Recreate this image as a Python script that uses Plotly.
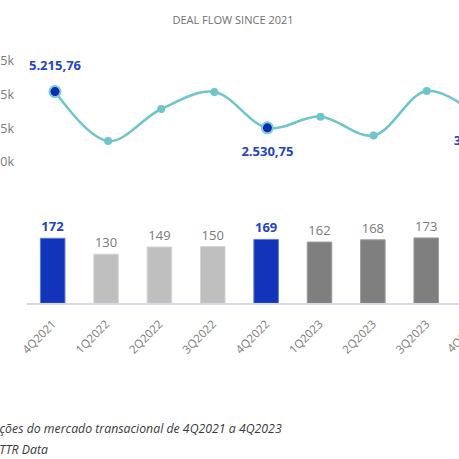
import plotly.graph_objects as go

# ---------------- data ----------------
quarters = ["4Q2021", "1Q2022", "2Q2022", "3Q2022", "4Q2022",
            "1Q2023", "2Q2023", "3Q2023", "4Q2023"]
deal_count = [172, 130, 149, 150, 169, 162, 168, 173, None]
deal_value = [5215.76, 1547.0, 3925.0, 5190.0, 2530.75, 3360.0, 1966.0, 5260.0, 3319.42]
highlight = [True, False, False, False, True, False, False, False, True]
y_tick_vals = [0, 2500, 5000, 7500]
y_tick_labels = ["0k", "2.5k", "5k", "7.5k"]
title_text = "DEAL FLOW SINCE 2021"
caption_1 = "Evolução das transações do mercado transacional de 4Q2021 a 4Q2023"
caption_2 = "Fonte: TTR Data"

# ---------------- styles ----------------
W = H = 459
FONT = "Open Sans"
BLUE = "#1234BA"
BLUE_TXT = "#2444C4"
TEAL = "#6EC5CA"
LIGHT = "#BFBFBF"
DARK = "#7F7F7F"
GRAY_TXT = "#7A7A7A"


def fx(p):
    return p / W


def fy(p):
    return 1 - p / H


def pt(v):
    s = f"{v:,.2f}"
    return s.replace(",", "X").replace(".", ",").replace("X", ".")


def bar_color(q, h):
    if h:
        return BLUE
    return LIGHT if q.endswith("2022") else DARK


def bar_edge(q, h):
    if h:
        return "#5E7BD8"
    return "#D6D6D6" if q.endswith("2022") else "#9C9C9C"


# layout geometry (pixels)
bar_x0, bar_dx, bar_left = 52.7, 53.36, 27
line_x0, line_dx, line_left = 55.0, 53.1, 15
bar_range = [-(bar_x0 - bar_left) / bar_dx, (W - bar_x0) / bar_dx]
line_range = [-(line_x0 - line_left) / line_dx, (W - line_x0) / line_dx]

bar_zero_px, bar_scale = 303.3, 0.378
bar_top_px = 205
line_zero_px, line_scale = 162.0, 0.0135
line_bot_px, line_top_px = 170, 40

fig = go.Figure()

fig.add_trace(go.Bar(
    x=quarters, y=deal_count, xaxis="x", yaxis="y",
    width=0.46,
    marker=dict(color=[bar_color(q, h) for q, h in zip(quarters, highlight)],
                line=dict(color=[bar_edge(q, h) for q, h in zip(quarters, highlight)], width=1)),
    text=[("" if c is None else (f"<b>{c}</b>" if h else str(c)))
          for c, h in zip(deal_count, highlight)],
    textposition="outside",
    textfont=dict(family=FONT, size=13,
                  color=[BLUE_TXT if h else GRAY_TXT for h in highlight]),
    cliponaxis=True, hoverinfo="skip", showlegend=False,
))

fig.add_trace(go.Scatter(
    x=quarters, y=deal_value, xaxis="x2", yaxis="y2",
    mode="lines+markers",
    line=dict(color=TEAL, width=2.5, shape="spline"),
    marker=dict(color=TEAL, size=8),
    cliponaxis=True, hoverinfo="skip", showlegend=False,
))

hq = [q for q, h in zip(quarters, highlight) if h]
hv = [v for v, h in zip(deal_value, highlight) if h]

fig.add_trace(go.Scatter(
    x=hq, y=hv, xaxis="x2", yaxis="y2", mode="markers",
    marker=dict(color="#0B2DB0", size=11, line=dict(color="#7DCCD1", width=2)),
    cliponaxis=True, hoverinfo="skip", showlegend=False,
))

fig.add_trace(go.Scatter(
    x=hq, y=hv, xaxis="x2", yaxis="y2", mode="markers+text",
    marker=dict(size=28, opacity=0),
    text=[f"<b>{pt(v)}</b>" for v in hv],
    textposition=["top center"] + ["bottom center"] * (len(hv) - 1),
    textfont=dict(family=FONT, size=13, color=BLUE_TXT),
    cliponaxis=True, hoverinfo="skip", showlegend=False,
))

# partially visible tick label of the last quarter (beyond the visible range)
last_idx = len(quarters) - 1
last_px = bar_left + (last_idx - bar_range[0]) / (bar_range[1] - bar_range[0]) * (W - bar_left)

fig.update_layout(
    width=W, height=H, template="none",
    margin=dict(l=0, r=0, t=0, b=0),
    paper_bgcolor="white", plot_bgcolor="rgba(0,0,0,0)",
    font=dict(family=FONT, color=GRAY_TXT),
    title=dict(text=title_text, x=fx(233), xanchor="center", y=fy(20), yanchor="middle",
               font=dict(family=FONT, size=11, color="#707070")),
    xaxis=dict(domain=[fx(bar_left), 1], range=bar_range, type="category",
               categoryorder="array", categoryarray=quarters,
               showline=True, linecolor="#D3DAE6", linewidth=1.5,
               showgrid=False, zeroline=False, ticks="",
               tickangle=-45, tickfont=dict(family=FONT, size=11.5, color=GRAY_TXT),
               ticklabelstandoff=8, automargin=False, fixedrange=True),
    yaxis=dict(domain=[fy(bar_zero_px), fy(bar_top_px)],
               range=[0, (bar_zero_px - bar_top_px) / bar_scale],
               visible=False, automargin=False, fixedrange=True),
    xaxis2=dict(domain=[fx(line_left), 1], range=line_range, type="category",
                categoryorder="array", categoryarray=quarters, anchor="y2",
                visible=False, automargin=False, fixedrange=True),
    yaxis2=dict(domain=[fy(line_bot_px), fy(line_top_px)],
                range=[-(line_bot_px - line_zero_px) / line_scale,
                       (line_zero_px - line_top_px) / line_scale],
                anchor="x2", tickvals=y_tick_vals, ticktext=y_tick_labels,
                tickfont=dict(family=FONT, size=12.5, color=GRAY_TXT),
                showgrid=False, zeroline=False, showline=False, ticks="",
                automargin=False, fixedrange=True),
    annotations=[
        dict(text=quarters[last_idx], xref="paper", yref="paper",
             x=last_px / W, xshift=-16, y=fy(335.7), xanchor="center", yanchor="middle",
             textangle=-45, showarrow=False,
             font=dict(family=FONT, size=11.5, color=GRAY_TXT)),
        dict(text=caption_1, xref="paper", yref="paper", x=fx(284), y=fy(428),
             xanchor="right", yanchor="middle", showarrow=False,
             font=dict(family=FONT, size=12.3, color="#3A3A3A", style="italic")),
        dict(text=caption_2, xref="paper", yref="paper", x=fx(49.5), y=fy(449),
             xanchor="right", yanchor="middle", showarrow=False,
             font=dict(family=FONT, size=12.3, color="#3A3A3A", style="italic")),
    ],
)

fig.write_html(
    "out.html",
    config={"displayModeBar": False, "staticPlot": True},
    post_script="document.documentElement.style.margin='0';"
                "document.body.style.margin='0';"
                "document.body.style.overflow='hidden';",
)
